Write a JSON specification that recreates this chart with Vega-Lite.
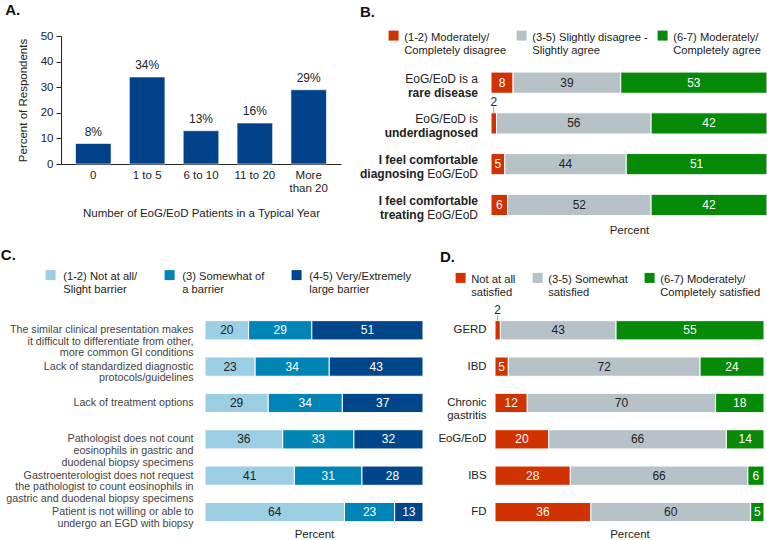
{
 "$schema": "https://vega.github.io/schema/vega-lite/v6.json",
 "padding": {"left": 0, "top": 3, "right": 0, "bottom": 0},
 "background": "white",
 "config": {
  "font": "Liberation Sans",
  "view": {"stroke": null},
  "title": {"fontSize": 15, "fontWeight": "bold", "anchor": "start", "frame": "bounds", "color": "#111"},
  "axis": {"labelColor": "#222", "titleColor": "#222", "titleFontWeight": "normal", "labelFontSize": 11.5, "titleFontSize": 11.5, "grid": false},
  "legend": {"labelFontSize": 11.2, "labelColor": "#222", "symbolType": "M-1,-0.2H1V1.8H-1Z", "symbolSize": 100, "symbolStrokeWidth": 0, "padding": 0, "labelLimit": 300, "labelBaseline": "top"}
 },
 "spacing": 11,
 "resolve": {"scale": {"color": "independent"}, "legend": {"color": "independent"}},
 "datasets": {
  "a": [
   {"patients": "0", "pct": 8, "label": "8%"},
   {"patients": "1 to 5", "pct": 34, "label": "34%"},
   {"patients": "6 to 10", "pct": 13, "label": "13%"},
   {"patients": "11 to 20", "pct": 16, "label": "16%"},
   {"patients": "More than 20", "pct": 29, "label": "29%"}
  ],
  "b": [
   {"item": "rare", "level": "(1-2) Moderately/|Completely disagree", "ord": 1, "value": 8},
   {"item": "rare", "level": "(3-5) Slightly disagree -|Slightly agree", "ord": 2, "value": 39},
   {"item": "rare", "level": "(6-7) Moderately/|Completely agree", "ord": 3, "value": 53},
   {"item": "under", "level": "(1-2) Moderately/|Completely disagree", "ord": 1, "value": 2},
   {"item": "under", "level": "(3-5) Slightly disagree -|Slightly agree", "ord": 2, "value": 56},
   {"item": "under", "level": "(6-7) Moderately/|Completely agree", "ord": 3, "value": 42},
   {"item": "diag", "level": "(1-2) Moderately/|Completely disagree", "ord": 1, "value": 5},
   {"item": "diag", "level": "(3-5) Slightly disagree -|Slightly agree", "ord": 2, "value": 44},
   {"item": "diag", "level": "(6-7) Moderately/|Completely agree", "ord": 3, "value": 51},
   {"item": "treat", "level": "(1-2) Moderately/|Completely disagree", "ord": 1, "value": 6},
   {"item": "treat", "level": "(3-5) Slightly disagree -|Slightly agree", "ord": 2, "value": 52},
   {"item": "treat", "level": "(6-7) Moderately/|Completely agree", "ord": 3, "value": 42}
  ],
  "blab": [
   {"item": "rare", "kind": "reg0", "text": "EoG/EoD is a"},
   {"item": "rare", "kind": "bold1", "text": "rare disease"},
   {"item": "under", "kind": "reg0", "text": "EoG/EoD is"},
   {"item": "under", "kind": "bold1", "text": "underdiagnosed"},
   {"item": "diag", "kind": "bold0", "text": "I feel comfortable"},
   {"item": "diag", "kind": "reg1", "text": "EoG/EoD"},
   {"item": "diag", "kind": "mix1", "text": "diagnosing"},
   {"item": "treat", "kind": "bold0", "text": "I feel comfortable"},
   {"item": "treat", "kind": "reg1", "text": "EoG/EoD"},
   {"item": "treat", "kind": "mix1", "text": "treating"}
  ],
  "c": [
   {"item": "The similar clinical presentation makes|it difficult to differentiate from other,|more common GI conditions", "level": "(1-2) Not at all/|Slight barrier", "ord": 1, "value": 20},
   {"item": "The similar clinical presentation makes|it difficult to differentiate from other,|more common GI conditions", "level": "(3) Somewhat of|a barrier", "ord": 2, "value": 29},
   {"item": "The similar clinical presentation makes|it difficult to differentiate from other,|more common GI conditions", "level": "(4-5) Very/Extremely|large barrier", "ord": 3, "value": 51},
   {"item": "Lack of standardized diagnostic|protocols/guidelines", "level": "(1-2) Not at all/|Slight barrier", "ord": 1, "value": 23},
   {"item": "Lack of standardized diagnostic|protocols/guidelines", "level": "(3) Somewhat of|a barrier", "ord": 2, "value": 34},
   {"item": "Lack of standardized diagnostic|protocols/guidelines", "level": "(4-5) Very/Extremely|large barrier", "ord": 3, "value": 43},
   {"item": "Lack of treatment options", "level": "(1-2) Not at all/|Slight barrier", "ord": 1, "value": 29},
   {"item": "Lack of treatment options", "level": "(3) Somewhat of|a barrier", "ord": 2, "value": 34},
   {"item": "Lack of treatment options", "level": "(4-5) Very/Extremely|large barrier", "ord": 3, "value": 37},
   {"item": "Pathologist does not count|eosinophils in gastric and|duodenal biopsy specimens", "level": "(1-2) Not at all/|Slight barrier", "ord": 1, "value": 36},
   {"item": "Pathologist does not count|eosinophils in gastric and|duodenal biopsy specimens", "level": "(3) Somewhat of|a barrier", "ord": 2, "value": 33},
   {"item": "Pathologist does not count|eosinophils in gastric and|duodenal biopsy specimens", "level": "(4-5) Very/Extremely|large barrier", "ord": 3, "value": 32},
   {"item": "Gastroenterologist does not request|the pathologist to count eosinophils in|gastric and duodenal biopsy specimens", "level": "(1-2) Not at all/|Slight barrier", "ord": 1, "value": 41},
   {"item": "Gastroenterologist does not request|the pathologist to count eosinophils in|gastric and duodenal biopsy specimens", "level": "(3) Somewhat of|a barrier", "ord": 2, "value": 31},
   {"item": "Gastroenterologist does not request|the pathologist to count eosinophils in|gastric and duodenal biopsy specimens", "level": "(4-5) Very/Extremely|large barrier", "ord": 3, "value": 28},
   {"item": "Patient is not willing or able to|undergo an EGD with biopsy", "level": "(1-2) Not at all/|Slight barrier", "ord": 1, "value": 64},
   {"item": "Patient is not willing or able to|undergo an EGD with biopsy", "level": "(3) Somewhat of|a barrier", "ord": 2, "value": 23},
   {"item": "Patient is not willing or able to|undergo an EGD with biopsy", "level": "(4-5) Very/Extremely|large barrier", "ord": 3, "value": 13}
  ],
  "d": [
   {"item": "GERD", "level": "Not at all|satisfied", "ord": 1, "value": 2},
   {"item": "GERD", "level": "(3-5) Somewhat|satisfied", "ord": 2, "value": 43},
   {"item": "GERD", "level": "(6-7) Moderately/|Completely satisfied", "ord": 3, "value": 55},
   {"item": "IBD", "level": "Not at all|satisfied", "ord": 1, "value": 5},
   {"item": "IBD", "level": "(3-5) Somewhat|satisfied", "ord": 2, "value": 72},
   {"item": "IBD", "level": "(6-7) Moderately/|Completely satisfied", "ord": 3, "value": 24},
   {"item": "Chronic|gastritis", "level": "Not at all|satisfied", "ord": 1, "value": 12},
   {"item": "Chronic|gastritis", "level": "(3-5) Somewhat|satisfied", "ord": 2, "value": 70},
   {"item": "Chronic|gastritis", "level": "(6-7) Moderately/|Completely satisfied", "ord": 3, "value": 18},
   {"item": "EoG/EoD", "level": "Not at all|satisfied", "ord": 1, "value": 20},
   {"item": "EoG/EoD", "level": "(3-5) Somewhat|satisfied", "ord": 2, "value": 66},
   {"item": "EoG/EoD", "level": "(6-7) Moderately/|Completely satisfied", "ord": 3, "value": 14},
   {"item": "IBS", "level": "Not at all|satisfied", "ord": 1, "value": 28},
   {"item": "IBS", "level": "(3-5) Somewhat|satisfied", "ord": 2, "value": 66},
   {"item": "IBS", "level": "(6-7) Moderately/|Completely satisfied", "ord": 3, "value": 6},
   {"item": "FD", "level": "Not at all|satisfied", "ord": 1, "value": 36},
   {"item": "FD", "level": "(3-5) Somewhat|satisfied", "ord": 2, "value": 60},
   {"item": "FD", "level": "(6-7) Moderately/|Completely satisfied", "ord": 3, "value": 5}
  ]
 },
 "vconcat": [
  {
   "bounds": "flush",
   "spacing": 150,
   "resolve": {"scale": {"color": "independent"}, "legend": {"color": "independent"}},
   "hconcat": [
    {
     "title": {"text": "A.", "dx": -12, "offset": 12},
     "width": 280,
     "height": 128,
     "data": {"name": "a"},
     "encoding": {
      "x": {"field": "patients", "type": "nominal", "sort": null,
            "scale": {"paddingInner": 0.34, "paddingOuter": 0.27},
            "axis": {"labelAngle": 0, "ticks": false, "domainColor": "#222", "labelPadding": 5, "labelLineHeight": 13,
                     "labelExpr": "datum.label == 'More than 20' ? ['More', 'than 20'] : datum.label",
                     "title": "Number of EoG/EoD Patients in a Typical Year", "titlePadding": 14}},
      "y": {"field": "pct", "type": "quantitative", "scale": {"domain": [0, 50]},
            "axis": {"values": [0, 10, 20, 30, 40, 50], "tickSize": 5, "tickColor": "#222", "domainColor": "#222", "labelPadding": 3,
                     "title": "Percent of Respondents", "titlePadding": 12}}
     },
     "layer": [
      {"mark": {"type": "bar", "color": "#00428A", "stroke": "white", "strokeWidth": 0.6}},
      {"mark": {"type": "text", "baseline": "bottom", "dy": -5, "fontSize": 12, "color": "#222"},
       "encoding": {"text": {"field": "label"}}}
     ]
    },
    {
     "title": {"text": "B.", "offset": 6},
     "width": 276,
     "height": 179.5,
     "encoding": {
      "y": {"field": "item", "type": "nominal", "sort": null,
            "scale": {"domain": ["rare", "under", "diag", "treat"], "paddingInner": 0.48, "paddingOuter": 0.4425, "align": 1},
            "axis": null}
     },
     "layer": [
      {
       "data": {"name": "b"},
       "transform": [{"stack": "value", "groupby": ["item"], "offset": "normalize", "sort": [{"field": "ord", "order": "ascending"}], "as": ["v0", "v1"]}],
       "mark": {"type": "bar", "stroke": "white", "strokeWidth": 1},
       "encoding": {
        "x": {"field": "v0", "type": "quantitative", "scale": {"domain": [0, 1], "nice": false},
              "axis": {"labels": false, "ticks": false, "domain": false, "title": "Percent", "titlePadding": 9}},
        "x2": {"field": "v1"},
        "color": {"field": "level", "type": "nominal",
                  "scale": {"domain": ["(1-2) Moderately/|Completely disagree", "(3-5) Slightly disagree -|Slightly agree", "(6-7) Moderately/|Completely agree"],
                            "range": ["#D03200", "#B6C1C8", "#078A07"]},
                  "legend": {"orient": "none", "legendX": -103, "legendY": -10, "direction": "horizontal", "columns": 3, "title": null,
                             "columnPadding": 9, "labelOffset": 5, "labelExpr": "split(datum.label, '|')"}}
       }
      },
      {
       "data": {"name": "b"},
       "transform": [
        {"stack": "value", "groupby": ["item"], "offset": "normalize", "sort": [{"field": "ord", "order": "ascending"}], "as": ["v0", "v1"]},
        {"calculate": "(datum.v0 + datum.v1) / 2", "as": "mid"},
        {"filter": "datum.value >= 3"}
       ],
       "mark": {"type": "text", "fontSize": 12},
       "encoding": {
        "x": {"field": "mid", "type": "quantitative", "axis": {"labels": false, "ticks": false, "domain": false, "title": "Percent", "titlePadding": 9}},
        "text": {"field": "value"},
        "color": {"condition": {"test": "datum.ord == 2", "value": "#222"}, "value": "white"}
       }
      },
      {
       "data": {"name": "b"},
       "transform": [
        {"stack": "value", "groupby": ["item"], "offset": "normalize", "sort": [{"field": "ord", "order": "ascending"}], "as": ["v0", "v1"]},
        {"calculate": "(datum.v0 + datum.v1) / 2", "as": "mid"},
        {"filter": "datum.value < 3"}
       ],
       "layer": [
        {"mark": {"type": "text", "fontSize": 12, "dy": -21.5, "color": "#222"},
         "encoding": {"x": {"field": "mid", "type": "quantitative", "axis": {"labels": false, "ticks": false, "domain": false, "title": "Percent", "titlePadding": 9}}, "text": {"field": "value"}}},
        {"mark": {"type": "point", "shape": "M0,-3.3L0,-2.1", "size": 100, "stroke": "#999", "strokeWidth": 1, "filled": false, "opacity": 1},
         "encoding": {"x": {"field": "mid", "type": "quantitative", "axis": {"labels": false, "ticks": false, "domain": false, "title": "Percent", "titlePadding": 9}}}}
       ]
      },
      {
       "data": {"name": "blab"},
       "transform": [{"filter": "datum.kind == 'reg0'"}],
       "mark": {"type": "text", "fontSize": 12, "align": "right", "baseline": "alphabetic", "dx": -13, "dy": 0, "color": "#222"},
       "encoding": {"x": {"datum": 0, "type": "quantitative", "axis": {"labels": false, "ticks": false, "domain": false, "title": "Percent", "titlePadding": 9}}, "text": {"field": "text"}}
      },
      {
       "data": {"name": "blab"},
       "transform": [{"filter": "datum.kind == 'bold0'"}],
       "mark": {"type": "text", "fontSize": 12, "fontWeight": "bold", "align": "right", "baseline": "alphabetic", "dx": -13, "dy": 0, "color": "#222"},
       "encoding": {"x": {"datum": 0, "type": "quantitative", "axis": {"labels": false, "ticks": false, "domain": false, "title": "Percent", "titlePadding": 9}}, "text": {"field": "text"}}
      },
      {
       "data": {"name": "blab"},
       "transform": [{"filter": "datum.kind == 'bold1'"}],
       "mark": {"type": "text", "fontSize": 12, "fontWeight": "bold", "align": "right", "baseline": "alphabetic", "dx": -13, "dy": 14, "color": "#222"},
       "encoding": {"x": {"datum": 0, "type": "quantitative", "axis": {"labels": false, "ticks": false, "domain": false, "title": "Percent", "titlePadding": 9}}, "text": {"field": "text"}}
      },
      {
       "data": {"name": "blab"},
       "transform": [{"filter": "datum.kind == 'reg1'"}],
       "mark": {"type": "text", "fontSize": 12, "align": "right", "baseline": "alphabetic", "dx": -13, "dy": 14, "color": "#222"},
       "encoding": {"x": {"datum": 0, "type": "quantitative", "axis": {"labels": false, "ticks": false, "domain": false, "title": "Percent", "titlePadding": 9}}, "text": {"field": "text"}}
      },
      {
       "data": {"name": "blab"},
       "transform": [{"filter": "datum.kind == 'mix1'"}],
       "mark": {"type": "text", "fontSize": 12, "fontWeight": "bold", "align": "right", "baseline": "alphabetic", "dx": -67, "dy": 14, "color": "#222"},
       "encoding": {"x": {"datum": 0, "type": "quantitative", "axis": {"labels": false, "ticks": false, "domain": false, "title": "Percent", "titlePadding": 9}}, "text": {"field": "text"}}
      }
     ]
    }
   ]
  },
  {
   "bounds": "flush",
   "spacing": 72,
   "resolve": {"scale": {"color": "independent"}, "legend": {"color": "independent"}},
   "hconcat": [
    {
     "width": 72,
     "height": 10,
     "data": {"values": []},
     "mark": "point",
     "encoding": {}
    },
    {
     "title": {"text": "C.", "offset": 3, "dx": -5},
     "width": 218,
     "height": 208.3,
     "data": {"name": "c"},
     "transform": [
      {"stack": "value", "groupby": ["item"], "offset": "normalize", "sort": [{"field": "ord", "order": "ascending"}], "as": ["v0", "v1"]},
      {"calculate": "(datum.v0 + datum.v1) / 2", "as": "mid"}
     ],
     "encoding": {
      "y": {"field": "item", "type": "nominal", "sort": null,
            "scale": {"paddingInner": 0.47, "paddingOuter": 0.1},
            "axis": {"title": null, "ticks": false, "domain": false, "labelPadding": 12, "labelFontSize": 10.7, "labelLineHeight": 11.6,
                     "labelColor": "#444", "labelLimit": 400, "labelExpr": "split(datum.label, '|')"}}
     },
     "layer": [
      {
       "mark": {"type": "bar", "stroke": "white", "strokeWidth": 1},
       "encoding": {
        "x": {"field": "v0", "type": "quantitative", "scale": {"domain": [0, 1], "nice": false},
              "axis": {"labels": false, "ticks": false, "domain": false, "title": "Percent", "titlePadding": 3}},
        "x2": {"field": "v1"},
        "color": {"field": "level", "type": "nominal",
                  "scale": {"domain": ["(1-2) Not at all/|Slight barrier", "(3) Somewhat of|a barrier", "(4-5) Very/Extremely|large barrier"],
                            "range": ["#9CCFE4", "#0085B6", "#00468B"]},
                  "legend": {"orient": "none", "legendX": -160, "legendY": -51.5, "direction": "horizontal", "columns": 3, "title": null,
                             "columnPadding": 26, "labelOffset": 7, "labelExpr": "split(datum.label, '|')"}}
       }
      },
      {
       "mark": {"type": "text", "fontSize": 12},
       "encoding": {
        "x": {"field": "mid", "type": "quantitative", "axis": {"labels": false, "ticks": false, "domain": false, "title": "Percent", "titlePadding": 3}},
        "text": {"field": "value"},
        "color": {"condition": {"test": "datum.ord == 1", "value": "#222"}, "value": "white"}
       }
      }
     ]
    },
    {
     "title": {"text": "D.", "offset": 3, "dx": 2},
     "width": 269,
     "height": 208.3,
     "data": {"name": "d"},
     "transform": [
      {"stack": "value", "groupby": ["item"], "offset": "normalize", "sort": [{"field": "ord", "order": "ascending"}], "as": ["v0", "v1"]},
      {"calculate": "(datum.v0 + datum.v1) / 2", "as": "mid"}
     ],
     "encoding": {
      "y": {"field": "item", "type": "nominal", "sort": null,
            "scale": {"paddingInner": 0.47, "paddingOuter": 0.1},
            "axis": {"title": null, "ticks": false, "domain": false, "labelPadding": 9, "labelFontSize": 11.4, "labelLineHeight": 13,
                     "labelColor": "#222", "labelLimit": 400, "labelExpr": "split(datum.label, '|')"}}
     },
     "layer": [
      {
       "mark": {"type": "bar", "stroke": "white", "strokeWidth": 1},
       "encoding": {
        "x": {"field": "v0", "type": "quantitative", "scale": {"domain": [0, 1], "nice": false},
              "axis": {"labels": false, "ticks": false, "domain": false, "title": "Percent", "titlePadding": 3}},
        "x2": {"field": "v1"},
        "color": {"field": "level", "type": "nominal",
                  "scale": {"domain": ["Not at all|satisfied", "(3-5) Somewhat|satisfied", "(6-7) Moderately/|Completely satisfied"],
                            "range": ["#D03200", "#B6C1C8", "#078A07"]},
                  "legend": {"orient": "none", "legendX": -40, "legendY": -48.7, "direction": "horizontal", "columns": 3, "title": null,
                             "columnPadding": 16, "labelOffset": 5, "labelExpr": "split(datum.label, '|')"}}
       }
      },
      {
       "transform": [{"filter": "datum.value >= 3"}],
       "mark": {"type": "text", "fontSize": 12},
       "encoding": {
        "x": {"field": "mid", "type": "quantitative", "axis": {"labels": false, "ticks": false, "domain": false, "title": "Percent", "titlePadding": 3}},
        "text": {"field": "value"},
        "color": {"condition": {"test": "datum.ord == 2", "value": "#222"}, "value": "white"}
       }
      },
      {
       "transform": [{"filter": "datum.value < 3"}],
       "mark": {"type": "text", "fontSize": 12, "dy": -20, "color": "#222"},
       "encoding": {"x": {"field": "mid", "type": "quantitative", "axis": {"labels": false, "ticks": false, "domain": false, "title": "Percent", "titlePadding": 3}}, "text": {"field": "value"}}
      },
      {
       "transform": [{"filter": "datum.value < 3"}],
       "mark": {"type": "point", "shape": "M0,-3L0,-1.95", "size": 100, "stroke": "#999", "strokeWidth": 1, "filled": false, "opacity": 1},
       "encoding": {"x": {"field": "mid", "type": "quantitative", "axis": {"labels": false, "ticks": false, "domain": false, "title": "Percent", "titlePadding": 3}}}
      }
     ]
    }
   ]
  }
 ]
}
